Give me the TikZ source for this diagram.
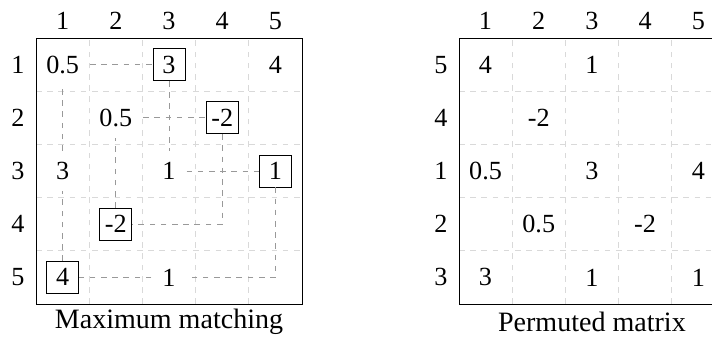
\documentclass[tikz,border=0pt]{standalone}
\usepackage{fontspec}
\setmainfont{Liberation Serif}
\usetikzlibrary{positioning}
\tikzset{
	entry/.style={minimum width=0.6cm, minimum height=0.75cm, inner xsep=0.2cm, inner ysep=0pt, font=\fontsize{14}{16}\selectfont},
	matched/.style={entry, draw, minimum size=0.6cm, inner sep=0pt},
	idx/.style={inner sep=0pt, font=\fontsize{14}{16}\selectfont},
	caption/.style={inner sep=0pt, font=\fontsize{15}{17}\selectfont}
}

\begin{document}
\begin{tikzpicture}[
	% --- Style Definitions ---
	gridline/.style={dashed, gray!30, thin},
	frame/.style={black, thin},
	match/.style={dashed, gray!80, thin},
	]
	
	% --- Parameters ---
	\def\Shift{7.95}    % left edge of the permuted matrix
	\def\Lab{0.32}      % distance of the index labels
	
	\useasboundingbox (-0.677,0.714) rectangle (12.707,-5.714);
	
	% --- Grids & Frames ---
	\foreach \x in {0,\Shift} {
		\draw[gridline, shift={(\x,0)}] (0,0) grid (5,-5);
		\draw[frame, shift={(\x,0)}] (0,0) rectangle (5,-5);
	}
	
	% --- Column Labels ---
	\foreach \c in {1,...,5} {
		\node[idx] (mc-\c) at (\c-0.5,\Lab) {\c};
		\node[idx] (pc-\c) at (\Shift+\c-0.5,\Lab) {\c};
	}
	
	% --- Row Labels ---
	\foreach \r in {1,...,5}
		\node[idx] (mr-\r) at (-\Lab-0.02,0.5-\r) {\r};
	\foreach \r/\lab in {1/5,2/4,3/1,4/2,5/3}
		\node[idx] (pr-\r) at (\Shift-\Lab-0.02,0.5-\r) {\lab};
	
	% --- Maximum Matching ---
	\foreach \r/\c/\v in {1/1/0.5,1/5/4,2/2/0.5,3/1/3,3/3/1,5/3/1}
		\node[entry] (m-\r-\c) at (\c-0.5,0.5-\r) {\v};
	\foreach \r/\c/\v in {1/3/3,2/4/-2,3/5/1,4/2/-2,5/1/4}
		\node[matched] (m-\r-\c) at (\c-0.5,0.5-\r) {\v};
	\coordinate (c-4-4) at (3.5,-3.5);
	\coordinate (c-5-5) at (4.5,-4.5);
	
	% outer cycle
	\draw[match] (m-1-1) -- (m-1-3);
	\draw[match] (m-1-3) -- (m-3-3);
	\draw[match] (m-3-3) -- (m-3-5);
	\draw[match] (m-3-5) -- (c-5-5) -- (m-5-3);
	\draw[match] (m-5-3) -- (m-5-1);
	\draw[match] (m-5-1) -- (m-3-1);
	\draw[match] (m-3-1) -- (m-1-1);
	% inner cycle
	\draw[match] (m-2-2) -- (m-2-4);
	\draw[match] (m-2-4) -- (c-4-4) -- (m-4-2);
	\draw[match] (m-4-2) -- (m-2-2);
	
	% --- Permuted Matrix ---
	\foreach \r/\c/\v in {1/1/4,1/3/1,2/2/-2,3/1/0.5,3/3/3,3/5/4,4/2/0.5,4/4/-2,5/1/3,5/3/1,5/5/1}
		\node[entry] (p-\r-\c) at (\Shift+\c-0.5,0.5-\r) {\v};
	
	% --- Captions ---
	\node[caption] (capm) at (2.5,-5.34) {Maximum matching};
	\node[caption] (capp) at (\Shift+2.5,-5.34) {Permuted matrix};
	
\end{tikzpicture}
\end{document}
